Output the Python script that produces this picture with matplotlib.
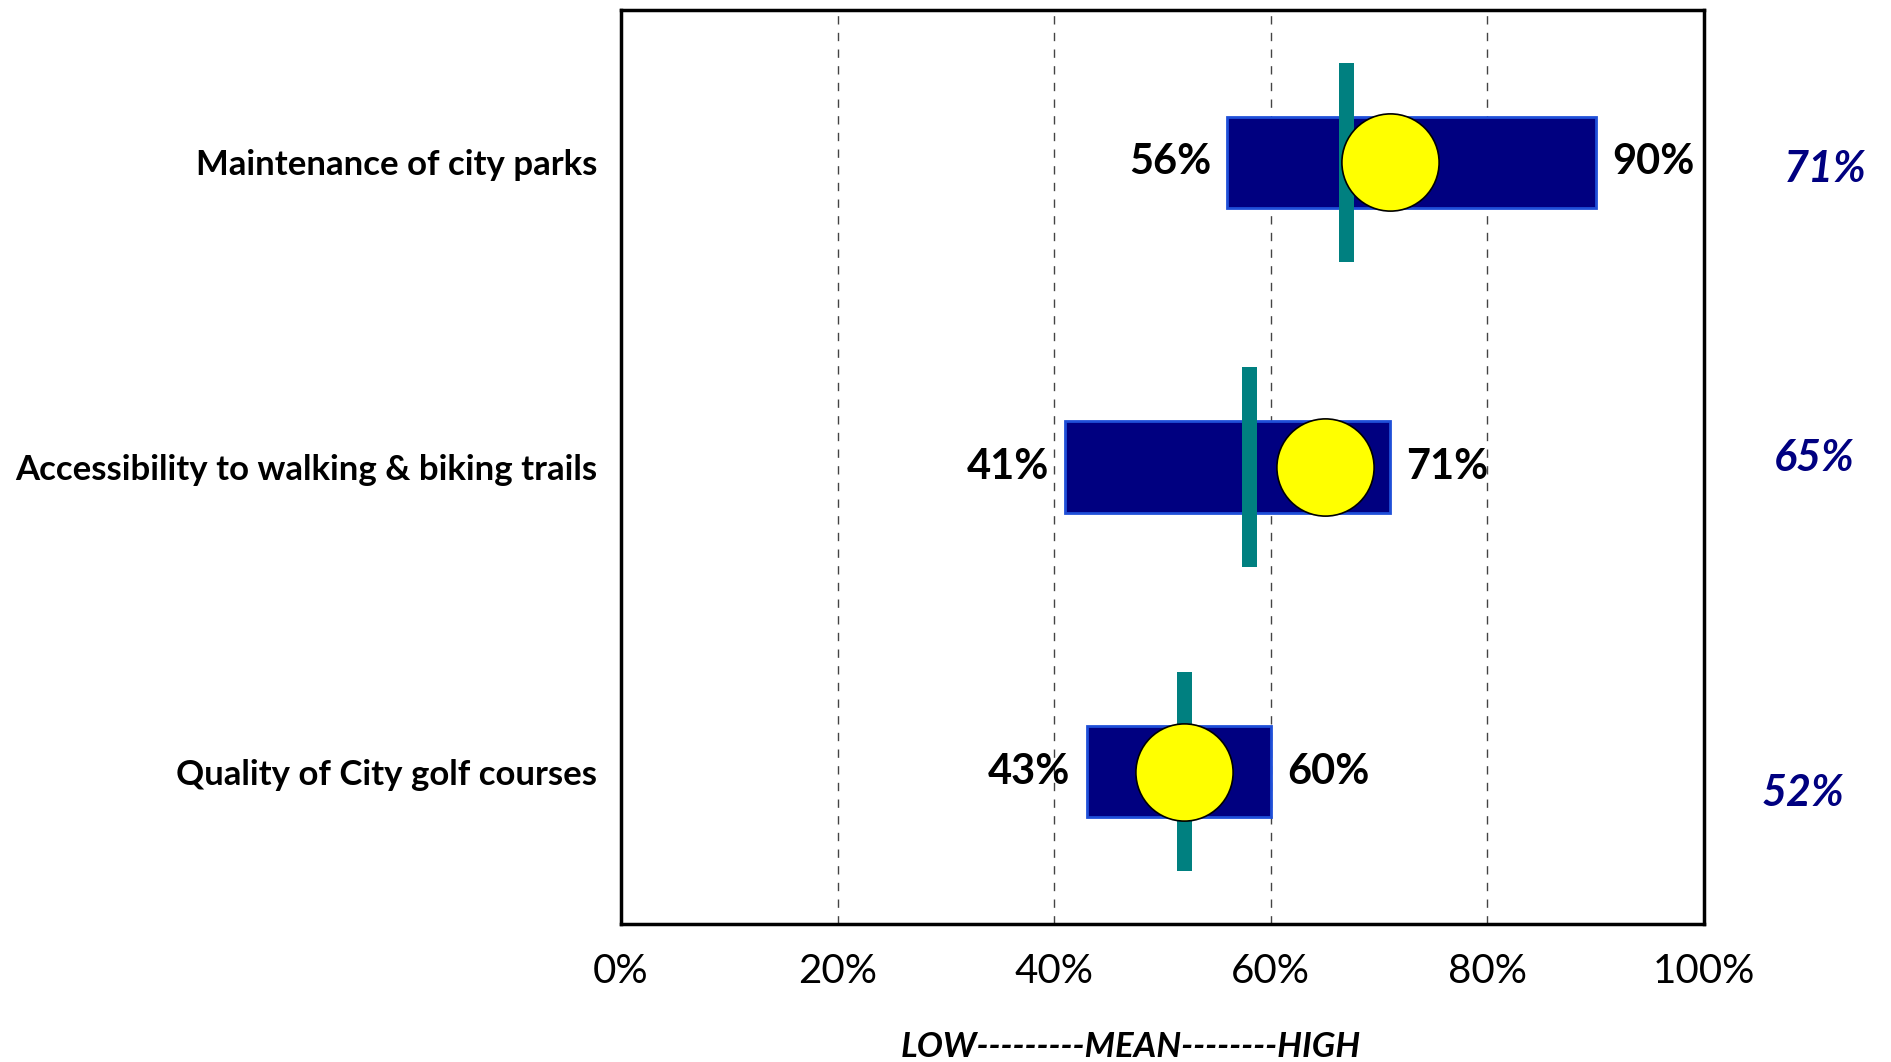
import matplotlib
matplotlib.use("Agg")
import matplotlib.pyplot as plt

plt.rcParams['font.family'] = ['Lato', 'DejaVu Sans']

# Survey items, top to bottom
categories = ["Maintenance of city parks",
              "Accessibility to walking & biking trails",
              "Quality of City golf courses"]
low = [56, 41, 43]          # low end of range (%)
high = [90, 71, 60]         # high end of range (%)
benchmark = [67, 58, 52]    # teal marker (%)
score = [71, 65, 52]        # yellow circle / right-hand value (%)
tick_values = [0, 20, 40, 60, 80, 100]
tick_labels = ["0%", "20%", "40%", "60%", "80%", "100%"]

fig = plt.figure(figsize=(18.91, 10.62), dpi=100)
ax = fig.add_axes([0.3284, 0.1299, 0.5727, 0.8606])

rows = list(range(1, len(categories) + 1))

# Range bars
ax.barh(rows, [h - l for l, h in zip(low, high)], left=low, height=0.30,
        color="#000080", edgecolor="#1F4FD8", linewidth=2, zorder=3)

# Benchmark markers (thin vertical bars)
ax.bar(benchmark, 0.654, bottom=[r - 0.327 for r in rows], width=1.4,
       color="#008080", linewidth=0, zorder=4)

# Score circles
ax.scatter(score, rows, s=4900, color="#FFFF00", edgecolor="black",
           linewidth=1.2, zorder=5)

# Value labels either side of the range bar
for r, l, h in zip(rows, low, high):
    ax.text(l - 1.5, r, f"{l}%", ha="right", va="center", fontsize=30,
            fontweight="bold", color="black", zorder=6)
    ax.text(h + 1.5, r, f"{h}%", ha="left", va="center", fontsize=30,
            fontweight="bold", color="black", zorder=6)

# Scores in the right margin
right_pos = [(115.0, 1.02), (113.9, 1.97), (113.0, 3.07)]
for (x, y), v in zip(right_pos, score):
    ax.text(x, y, f"{v}%", ha="right", va="center", fontsize=31,
            fontweight="bold", fontstyle="italic", color="#000080",
            clip_on=False)

ax.set_xlim(0, 100)
ax.set_ylim(3.5, 0.5)
ax.set_xticks(tick_values)
ax.set_xticklabels(tick_labels, fontsize=29)
ax.tick_params(axis="x", length=0, pad=21)
ax.set_yticks(rows)
ax.set_yticklabels(categories, fontsize=25, fontweight="bold")
ax.tick_params(axis="y", length=0, pad=17)

for x in tick_values[1:-1]:
    ax.axvline(x, color="#444444", linestyle=(0, (6, 6)), linewidth=1.0,
               zorder=1)

for s in ax.spines.values():
    s.set_linewidth(2.5)
    s.set_color("black")

fig.text(1131 / 1891, 1 - 1047 / 1062, "LOW---------MEAN--------HIGH",
         ha="center", va="center", fontsize=25, fontweight="bold",
         fontstyle="italic")

fig.savefig("out.png", dpi=100, facecolor="white")
